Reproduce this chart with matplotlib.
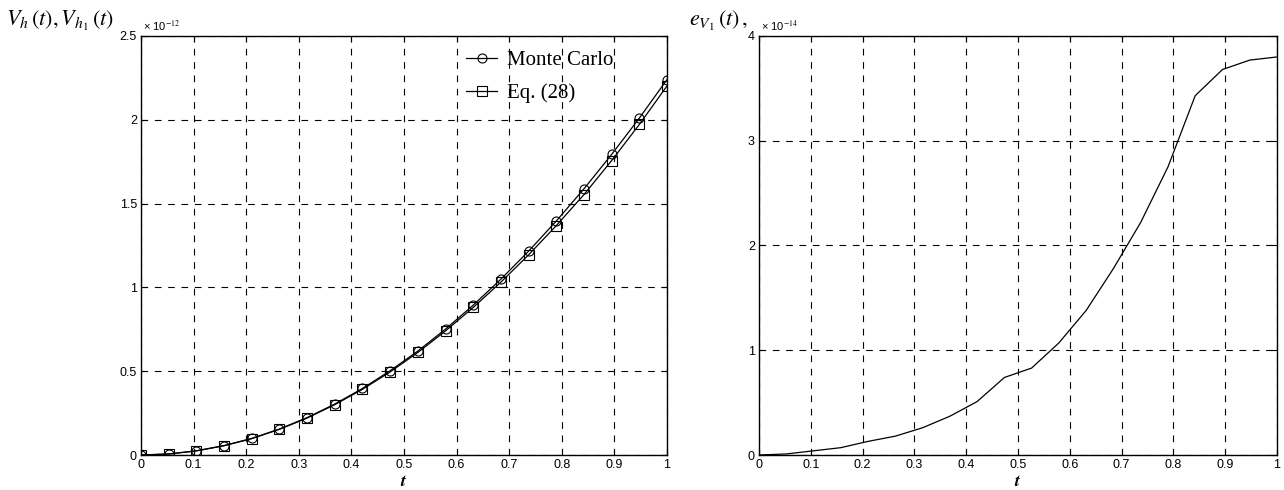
import matplotlib
matplotlib.use("Agg")
import matplotlib.pyplot as plt
import numpy as np

# data (left in units of 1e-12, right in units of 1e-14)
t = [0.0, 0.0526, 0.1053, 0.1579, 0.2105, 0.2632, 0.3158, 0.3684, 0.4211, 0.4737,
     0.5263, 0.5789, 0.6316, 0.6842, 0.7368, 0.7895, 0.8421, 0.8947, 0.9474, 1.0]
monte_carlo = [0.0, 0.006, 0.025, 0.056, 0.099, 0.155, 0.223, 0.304, 0.397, 0.503,
               0.620, 0.751, 0.894, 1.049, 1.216, 1.396, 1.588, 1.793, 2.010, 2.240]
err = [0.0, 0.01, 0.04, 0.07, 0.13, 0.18, 0.26, 0.37, 0.51, 0.74,
       0.83, 1.07, 1.38, 1.78, 2.22, 2.75, 3.43, 3.68, 3.77, 3.80]
eq28 = [m - e * 0.01 for m, e in zip(monte_carlo, err)]

xticks = [0, 0.1, 0.2, 0.3, 0.4, 0.5, 0.6, 0.7, 0.8, 0.9, 1]
xticklabels = ["0", "0.1", "0.2", "0.3", "0.4", "0.5", "0.6", "0.7", "0.8", "0.9", "1"]
left_yticks = [0, 0.5, 1, 1.5, 2, 2.5]
left_yticklabels = ["0", "0.5", "1", "1.5", "2", "2.5"]
right_yticks = [0, 1, 2, 3, 4]
right_yticklabels = ["0", "1", "2", "3", "4"]

plt.rcParams['font.family'] = ['Liberation Sans', 'DejaVu Sans']
plt.rcParams['mathtext.fontset'] = 'stix'

W, H = 1284, 490
fig = plt.figure(figsize=(W / 100, H / 100), dpi=100)

def style(ax, yticks, ylabels, ymax):
    ax.set_xlim(0, 1)
    ax.set_ylim(0, ymax)
    ax.set_xticks(xticks)
    ax.set_xticklabels(xticklabels)
    ax.set_yticks(yticks)
    ax.set_yticklabels(ylabels)
    ax.tick_params(direction='in', top=True, right=True, labelsize=9, length=4,
                   width=0.8, pad=3)
    ax.grid(True, color='black', linestyle=(0, (6, 6)), linewidth=0.8)
    for s in ax.spines.values():
        s.set_linewidth(1.0)
    ax.set_xlabel(r'$\boldsymbol{t}$', fontsize=13, labelpad=1)

ax1 = fig.add_axes([141 / W, 35 / H, 526 / W, 419 / H])
ax1.plot(t, monte_carlo, color='black', lw=0.9, marker='o', ms=6.5, mfc='none',
         mew=0.8, label='Monte Carlo')
ax1.plot(t, eq28, color='black', lw=0.9, marker='s', ms=6.5, mfc='none',
         mew=0.8, label='Eq. (28)')
style(ax1, left_yticks, left_yticklabels, 2.5)
leg = ax1.legend(loc='upper left', bbox_to_anchor=(0.618, 0.965), frameon=False,
                 prop={'family': 'Liberation Serif', 'size': 15},
                 handlelength=1.5, handletextpad=0.45, labelspacing=0.62,
                 borderaxespad=0.0, borderpad=0.0)
fig.text(143 / W, 1 - 26 / H, r'× 10$^{-12}$', fontsize=8, va='center', ha='left')
fig.text(6 / W, 1 - 21 / H, r'$V_h\,(t), V_{h_1}\,(t)$', fontsize=16,
         va='center', ha='left')

ax2 = fig.add_axes([759 / W, 35 / H, 518 / W, 419 / H])
ax2.plot(t, err, color='black', lw=0.9)
style(ax2, right_yticks, right_yticklabels, 4)
fig.text(761 / W, 1 - 26 / H, r'× 10$^{-14}$', fontsize=8, va='center', ha='left')
fig.text(748 / W, 1 - 21 / H, r'$e_{V_1}\,(t)\,,$', fontsize=16,
         va='center', ha='right')

fig.savefig('out.png', dpi=100)
